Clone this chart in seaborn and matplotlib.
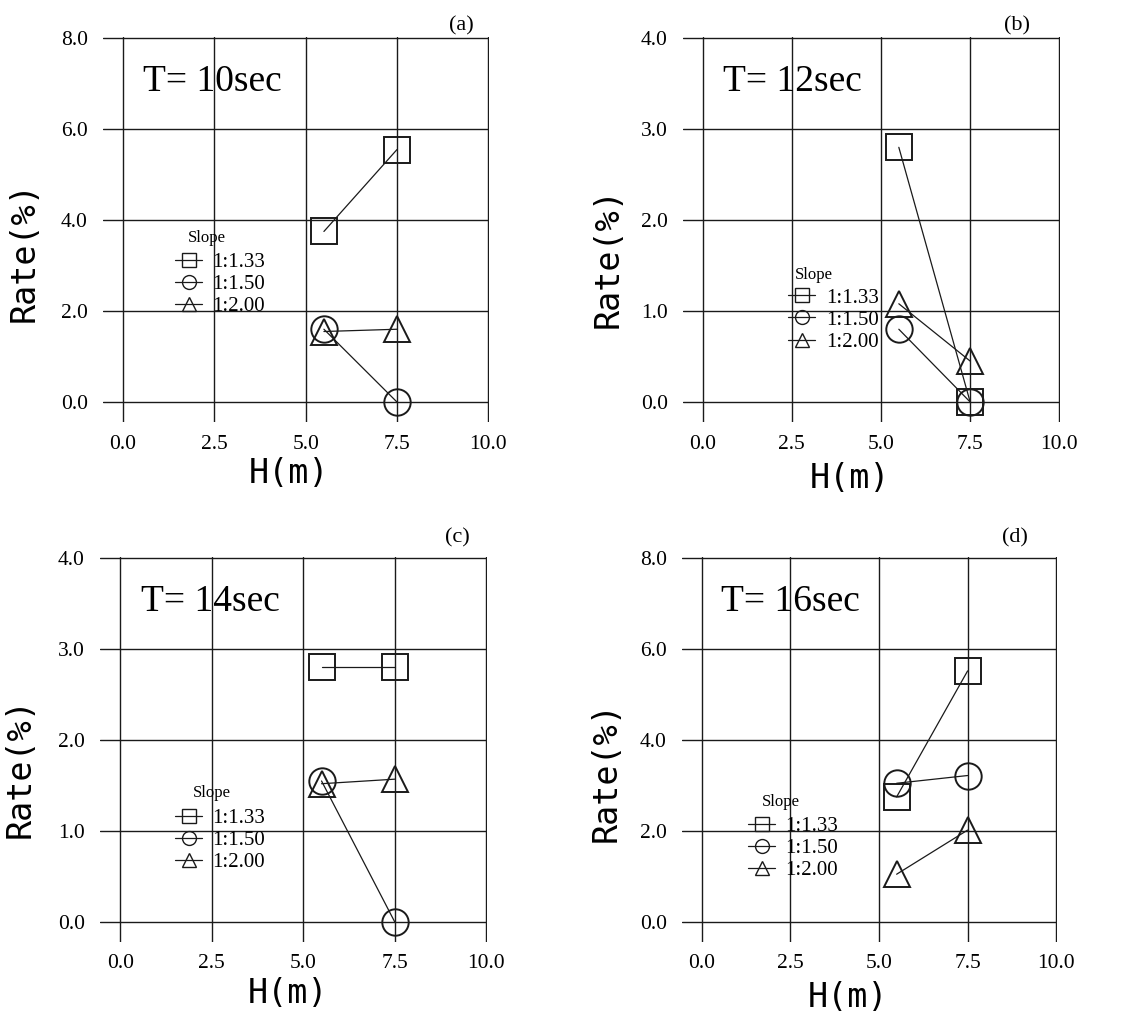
import numpy as np
import pandas as pd

import matplotlib
matplotlib.use("Agg")
import matplotlib.pyplot as plt
from matplotlib.lines import Line2D

import seaborn as sns

# data
slopes = ["1:1.33", "1:1.50", "1:2.00"]
h_values = [5.5, 7.5]
wave_periods = ["T= 10sec", "T= 12sec", "T= 14sec", "T= 16sec"]
panel_tags = ["(a)", "(b)", "(c)", "(d)"]
y_max = [8.0, 4.0, 4.0, 8.0]
y_step = [2.0, 1.0, 1.0, 2.0]

# rate (%) at H = 5.5 and 7.5, one list per slope
rate_t10 = {"1:1.33": [3.75, 5.55], "1:1.50": [1.6, 0.0], "1:2.00": [1.55, 1.6]}
rate_t12 = {"1:1.33": [2.8, 0.0], "1:1.50": [0.8, 0.0], "1:2.00": [1.08, 0.45]}
rate_t14 = {"1:1.33": [2.8, 2.8], "1:1.50": [1.55, 0.0], "1:2.00": [1.52, 1.57]}
rate_t16 = {"1:1.33": [2.75, 5.52], "1:1.50": [3.05, 3.22], "1:2.00": [1.05, 2.02]}
panel_rates = [rate_t10, rate_t12, rate_t14, rate_t16]

markers = {"1:1.33": "s", "1:1.50": "o", "1:2.00": "^"}

# layout (figure / axes fractions)
axes_rects = [
    [0.0908, 0.5834, 0.3404, 0.380],
    [0.6023, 0.5834, 0.3325, 0.380],
    [0.0882, 0.0701, 0.3413, 0.380],
    [0.6014, 0.0701, 0.3307, 0.380],
]
legend_pos = [(0.187, 0.440), (0.279, 0.348), (0.194, 0.347), (0.176, 0.326)]
slope_pos = [(0.220, 0.478), (0.297, 0.383), (0.240, 0.387), (0.213, 0.364)]
tag_pos = [(0.96, 1.03), (0.92, 1.03), (0.956, 1.05), (0.923, 1.05)]
xlabel_pos = [(0.482, -0.135), (0.443, -0.146), (0.486, -0.133), (0.443, -0.143)]
ylabel_pos = [(-0.205, 0.444), (-0.199, 0.427), (-0.207, 0.452), (-0.203, 0.442)]

sns.set_theme(style="whitegrid")
plt.rcParams["font.family"] = ["Liberation Serif", "DejaVu Serif"]
plt.rcParams["text.color"] = "black"
plt.rcParams["axes.labelcolor"] = "black"
plt.rcParams["xtick.color"] = "black"
plt.rcParams["ytick.color"] = "black"

fig = plt.figure(figsize=(11.34, 10.13), dpi=100)

for i, rates in enumerate(panel_rates):
    ax = fig.add_axes(axes_rects[i])

    rows = []
    for slope in slopes:
        for h, r in zip(h_values, rates[slope]):
            rows.append({"H": h, "rate": r, "slope": slope})
    df = pd.DataFrame(rows)

    sns.lineplot(
        data=df,
        x="H",
        y="rate",
        style="slope",
        style_order=slopes,
        markers=markers,
        dashes=False,
        estimator=None,
        color="k",
        linewidth=0.9,
        markersize=19,
        markerfacecolor="none",
        markeredgecolor="k",
        markeredgewidth=1.4,
        legend=False,
        ax=ax,
    )

    ymax = y_max[i]
    ax.set_xlim(-0.55, 10.02)
    ax.set_ylim(-0.055 * ymax, ymax * 1.003)
    ax.set_xticks([0, 2.5, 5, 7.5, 10])
    ax.set_xticklabels(["0.0", "2.5", "5.0", "7.5", "10.0"])
    yt = np.arange(0, ymax + y_step[i] / 2, y_step[i])
    ax.set_yticks(yt)
    ax.set_yticklabels([f"{v:.1f}" for v in yt])
    ax.grid(True, color="k", linewidth=1.0)
    for s in ax.spines.values():
        s.set_visible(False)
    ax.tick_params(axis="x", length=0, labelsize=15.5, pad=9)
    ax.tick_params(axis="y", length=0, labelsize=15.5, pad=11)

    ax.set_xlabel("H(m)", family="DejaVu Sans Mono", fontsize=24, va="center")
    ax.set_ylabel("Rate(%)", family="DejaVu Sans Mono", fontsize=24, va="center")
    ax.xaxis.set_label_coords(*xlabel_pos[i])
    ax.yaxis.set_label_coords(*ylabel_pos[i])

    ax.text(0.105, 0.885, wave_periods[i], transform=ax.transAxes,
            fontsize=27, va="center")
    ax.text(tag_pos[i][0], tag_pos[i][1], panel_tags[i], transform=ax.transAxes,
            fontsize=16, ha="right", va="center")

    # legend
    handles = [
        Line2D([0], [0], color="k", linewidth=0.9, marker=markers[s],
               markersize=10, markerfacecolor="none", markeredgecolor="k",
               markeredgewidth=1.0, label=s)
        for s in slopes
    ]
    ax.legend(handles=handles, loc="upper left", bbox_to_anchor=legend_pos[i],
              frameon=False, borderpad=0, borderaxespad=0, handlelength=1.3,
              handletextpad=0.5, labelspacing=0.12, fontsize=15)
    ax.text(slope_pos[i][0], slope_pos[i][1], "Slope", transform=ax.transAxes,
            fontsize=12, va="center")

fig.savefig("out.png", dpi=100, facecolor="white")
